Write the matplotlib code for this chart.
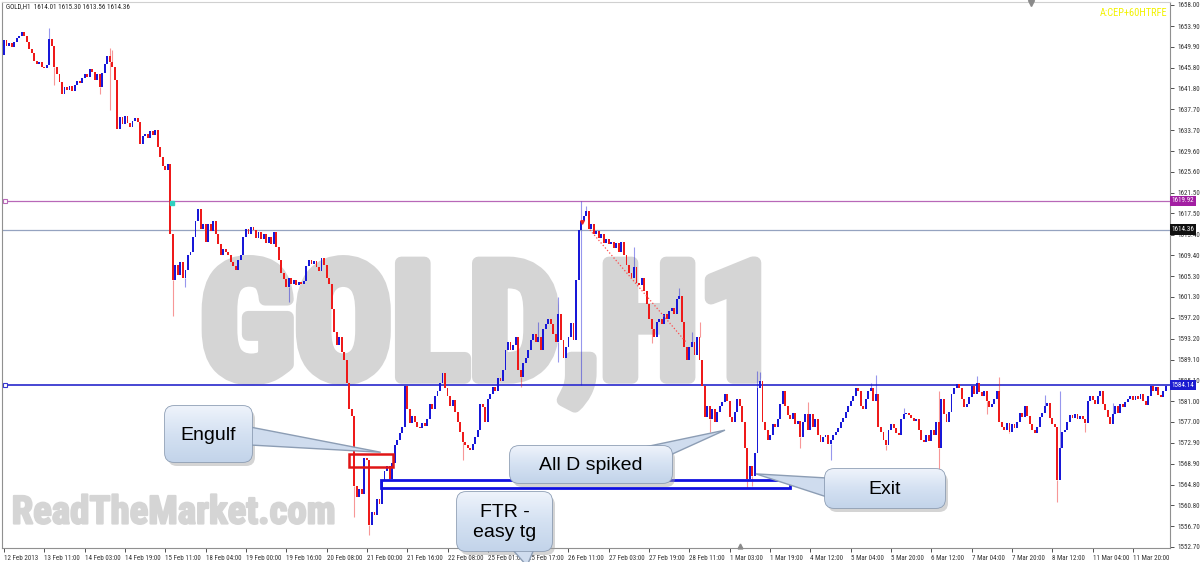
import matplotlib
matplotlib.use("Agg")
import matplotlib.pyplot as plt
import matplotlib.patheffects as pe
from matplotlib import font_manager
from matplotlib.patches import FancyBboxPatch, Polygon, Rectangle
from matplotlib.colors import LinearSegmentedColormap
import numpy as np

# hourly closes, one list per trading week
first_open = 1648.3
week1 = [1651.2, 1650.0, 1650.6, 1649.8, 1650.8, 1651.5, 1652.0, 1652.8,
         1652.0, 1650.8, 1649.5, 1648.6, 1647.2, 1646.5, 1647.0, 1646.0,
         1645.8, 1646.4, 1651.4, 1650.0, 1646.0, 1644.5, 1643.0, 1640.8,
         1642.0, 1641.4, 1642.2, 1641.2, 1642.5, 1643.3, 1642.8, 1643.8,
         1644.5, 1644.0, 1645.5, 1645.0, 1643.5, 1644.6, 1642.0, 1644.8,
         1646.5, 1648.0, 1647.0, 1646.0, 1643.5, 1634.0, 1636.2, 1634.8,
         1636.5, 1635.0, 1634.2, 1635.5, 1636.0, 1635.3, 1631.0, 1632.5,
         1633.0, 1632.2, 1633.5, 1632.8, 1633.8, 1630.5, 1628.5, 1626.8,
         1626.0, 1627.2, 1613.5, 1604.5, 1607.5, 1605.5, 1608.0, 1605.0,
         1606.5, 1609.5, 1610.0, 1613.0, 1616.0]
week2 = [1618.3, 1614.5, 1615.5,
         1612.0, 1615.5, 1614.0, 1616.0, 1613.5, 1611.5, 1609.5, 1610.5,
         1610.0, 1609.5, 1608.0, 1607.2, 1606.5, 1608.5, 1609.5, 1613.0,
         1614.5, 1613.6, 1614.8, 1614.2, 1612.8, 1613.8, 1612.5, 1613.5,
         1611.8, 1613.0, 1611.5, 1613.8, 1611.0, 1608.5, 1606.0, 1604.8,
         1603.3, 1605.0, 1603.8, 1604.5, 1603.5, 1604.2, 1603.7, 1604.4,
         1607.2, 1608.5, 1607.6, 1608.2, 1607.0, 1606.3, 1608.8, 1607.5,
         1605.0, 1603.8, 1599.0, 1594.5, 1592.0, 1593.5, 1590.5, 1589.0,
         1584.5, 1579.5, 1578.2, 1564.5, 1562.5, 1564.0, 1563.0, 1570.0,
         1569.5, 1557.0, 1559.5, 1559.0, 1562.0, 1561.0, 1565.5, 1567.5,
         1568.5, 1566.0, 1569.0, 1572.5, 1573.5, 1574.8, 1576.0, 1584.0,
         1579.5, 1576.8, 1578.2, 1577.0, 1576.0, 1575.8, 1576.7, 1576.2,
         1577.5, 1580.5, 1579.5, 1582.0, 1583.0, 1584.5, 1586.5, 1583.5,
         1582.0, 1580.0, 1581.2, 1579.0, 1577.0, 1575.0, 1573.0, 1572.5,
         1572.0, 1571.5, 1572.8, 1574.0, 1575.5, 1580.5, 1579.8, 1577.0]
week3 = [1581.5, 1582.5, 1583.8, 1583.0, 1585.5, 1585.0, 1587.0, 1591.0,
         1592.5, 1591.0, 1592.0, 1593.5, 1587.0, 1585.8, 1588.5, 1589.5,
         1591.0, 1593.0, 1594.0, 1592.5, 1593.5, 1591.0, 1595.0, 1596.0,
         1597.0, 1596.0, 1594.0, 1592.5, 1598.0, 1593.0, 1589.5, 1591.5,
         1593.5, 1596.2, 1593.0, 1604.5, 1614.3, 1616.0, 1617.0, 1618.0,
         1614.5, 1615.5, 1613.5, 1614.0, 1612.8, 1613.5, 1611.8, 1612.5,
         1611.5, 1612.0, 1610.8, 1611.8, 1610.0, 1612.0, 1609.5, 1607.5,
         1606.0, 1605.0, 1607.0, 1604.0, 1603.5, 1605.0, 1602.5, 1600.0,
         1597.0, 1595.0, 1593.5, 1596.5, 1597.0, 1596.0, 1598.0, 1597.0,
         1598.5, 1599.2, 1598.0, 1600.8, 1601.5, 1596.5, 1591.5, 1589.0,
         1591.5, 1592.5, 1590.0, 1593.5, 1589.0, 1584.0, 1578.0, 1580.0,
         1577.5, 1579.5, 1577.0, 1579.0, 1580.0, 1580.8, 1582.5, 1581.0,
         1578.0, 1577.0, 1579.0, 1581.5, 1580.0, 1577.0, 1572.0, 1566.0,
         1568.5, 1566.5, 1571.0, 1583.5, 1585.0, 1577.0, 1575.5, 1573.5,
         1574.5, 1576.5, 1576.0, 1577.5, 1580.5]
week4 = [1583.0, 1580.0, 1578.3,
         1577.5, 1578.8, 1576.5, 1577.2, 1574.0, 1577.0, 1578.5, 1575.5,
         1578.5, 1576.0, 1577.5, 1574.5, 1573.0, 1574.0, 1574.5, 1572.8,
         1573.5, 1574.5, 1575.0, 1575.8, 1577.0, 1577.8, 1579.0, 1580.0,
         1581.0, 1582.0, 1583.5, 1583.0, 1580.0, 1579.5, 1581.5, 1583.0,
         1583.5, 1581.0, 1582.5, 1576.0, 1575.0, 1573.5, 1572.5, 1575.5,
         1576.5, 1575.8, 1574.8, 1574.5, 1577.5, 1578.5, 1578.8, 1578.3,
         1577.8, 1577.2, 1577.5, 1575.5, 1573.5, 1573.0, 1574.5, 1573.2,
         1575.5, 1574.5, 1577.0, 1572.0, 1581.5, 1578.5, 1577.0, 1579.0,
         1582.5, 1583.5, 1584.3, 1583.5, 1581.5, 1579.8, 1580.5, 1581.8,
         1584.0, 1582.5, 1584.5, 1582.8, 1582.0, 1583.0, 1581.0, 1579.8,
         1580.5, 1581.5, 1583.0, 1577.0, 1576.0, 1575.5, 1576.8, 1575.0,
         1576.5, 1575.8, 1577.0, 1578.8, 1578.0, 1580.0, 1578.2, 1576.5,
         1575.5, 1574.8, 1576.0, 1578.0, 1578.8, 1580.0, 1580.6, 1577.8,
         1576.5, 1576.0, 1565.8, 1572.0, 1575.0, 1575.5, 1577.0, 1578.3,
         1577.8, 1578.5, 1577.5, 1578.2]
week5 = [1577.5, 1576.8, 1581.0, 1582.0, 1581.2, 1580.5, 1582.0, 1583.0,
         1580.5, 1579.3, 1578.0, 1576.5, 1578.5, 1580.0, 1578.8, 1580.5,
         1579.8, 1580.8, 1581.5, 1582.0, 1581.3, 1582.0, 1581.5, 1582.5,
         1581.0, 1580.2, 1582.0, 1584.0, 1583.0, 1583.8, 1582.2, 1581.8,
         1583.0, 1584.0]

# long wicks (bar index -> price)
wick_high = {18: 1653.5, 42: 1649.6, 43: 1649.2, 212: 1596.4, 220: 1601.3,
             229: 1619.9, 231: 1619.0, 250: 1611.0, 268: 1603.0, 273: 1594.5,
             276: 1596.5, 299: 1586.8, 300: 1586.7, 319: 1580.9, 344: 1584.6,
             346: 1586.2, 357: 1579.7, 371: 1583.0, 386: 1586.0, 395: 1585.7,
             413: 1582.2, 419: 1583.0, 440: 1580.7}
wick_low = {20: 1642.5, 38: 1640.7, 42: 1637.6, 67: 1597.5, 72: 1603.2,
            113: 1600.3, 139: 1558.5, 145: 1555.0, 182: 1569.5, 205: 1583.8,
            220: 1588.6, 229: 1584.2, 257: 1592.3, 280: 1575.0, 295: 1564.2,
            297: 1564.5, 316: 1572.0, 328: 1569.6, 350: 1571.5, 371: 1567.8,
            390: 1578.6, 399: 1574.8, 418: 1561.5, 429: 1575.0}

y_ticks = [1658.00, 1653.90, 1649.90, 1645.80, 1641.80, 1637.70, 1633.70,
           1629.60, 1625.60, 1621.50, 1617.50, 1613.40, 1609.40, 1605.30,
           1601.30, 1597.20, 1593.20, 1589.10, 1585.10, 1581.00, 1577.00,
           1572.90, 1568.90, 1564.80, 1560.80, 1556.70, 1552.70]
x_labels = ["12 Feb 2013", "13 Feb 11:00", "14 Feb 03:00", "14 Feb 19:00",
            "15 Feb 11:00", "18 Feb 04:00", "19 Feb 00:00", "19 Feb 16:00",
            "20 Feb 08:00", "21 Feb 00:00", "21 Feb 16:00", "22 Feb 08:00",
            "25 Feb 01:00", "25 Feb 17:00", "26 Feb 11:00", "27 Feb 03:00",
            "27 Feb 19:00", "28 Feb 11:00", "1 Mar 03:00", "1 Mar 19:00",
            "4 Mar 12:00", "5 Mar 04:00", "5 Mar 20:00", "6 Mar 12:00",
            "7 Mar 04:00", "7 Mar 20:00", "8 Mar 12:00", "11 Mar 04:00",
            "11 Mar 20:00"]

# horizontal levels
level_top = 1619.92
level_bid = 1614.36
level_sr = 1584.14

# marked zones (bar from, bar to, price low, price high)
engulf_zone = (136.9, 154.4, 1568.2, 1570.8)
ftr_zone = (149.6, 312.0, 1564.16, 1565.71)
trend_line = ([232.5, 271.0], [1614.3, 1592.3])

BLUE = "#1818d8"
RED = "#ee1a1a"
MARK = "#d5d5d5"


def pick_font(cands):
    for c in cands:
        try:
            font_manager.findfont(c, fallback_to_default=False)
            return c
        except ValueError:
            pass
    return None


narrow = pick_font(["Roboto Condensed", "Liberation Sans Narrow",
                    "Open Sans Condensed", "Arial Narrow"])
if narrow:
    small_font, small_size = [narrow, "DejaVu Sans"], 5.0
    mark_size, site_size = 116, 28
else:
    small_font, small_size = ["Liberation Sans", "DejaVu Sans"], 4.3
    mark_size, site_size = 94, 24

W, H = 1200, 562
fig = plt.figure(figsize=(12, 5.62), dpi=100)
fig.patch.set_facecolor("white")
ax = fig.add_axes([2 / W, 1 - 548 / H, 1168 / W, 546 / H])

closes = np.array(week1 + week2 + week3 + week4 + week5)
opens = np.concatenate([[first_open], closes[:-1]])
idx = np.arange(len(closes))
up = closes >= opens
colors = np.where(up, BLUE, RED)

# wicks
for i, p in wick_high.items():
    ax.vlines(i, max(opens[i], closes[i]), p, color=colors[i], lw=0.8,
              alpha=0.45, zorder=2)
for i, p in wick_low.items():
    ax.vlines(i, p, min(opens[i], closes[i]), color=colors[i], lw=0.8,
              alpha=0.45, zorder=2)

# bodies
bottom = np.minimum(opens, closes)
height = np.maximum(np.abs(closes - opens), 0.2)
ax.bar(idx, height, bottom=bottom, width=0.75, color=colors, linewidth=0,
       zorder=3)

ax.axhline(level_top, color="#b868b8", lw=0.9, zorder=1)
ax.axhline(level_bid, color="#95a3c0", lw=0.9, zorder=1)
ax.axhline(level_sr, color="#3838d0", lw=1.3, zorder=1)
ax.plot([0.2], [level_top], marker="s", ms=3, mfc="white", mec="#b868b8",
        mew=0.8, zorder=4)
ax.plot([0.2], [level_sr], marker="s", ms=3, mfc="white", mec="#3838d0",
        mew=0.8, zorder=4)

ax.plot(trend_line[0], trend_line[1], ls=":", color="#ff4a4a", lw=0.9, zorder=4)
ax.plot([66.7], [1619.5], marker="s", ms=2.5, color="#30d0c0", zorder=5)
ax.plot([229.5], [1615.8], marker="v", ms=2.5, color="#ee2020", zorder=5)

ax.add_patch(Rectangle((engulf_zone[0], engulf_zone[2]),
                       engulf_zone[1] - engulf_zone[0],
                       engulf_zone[3] - engulf_zone[2],
                       fill=False, ec="#e01515", lw=1.8, zorder=6))
ax.add_patch(Rectangle((ftr_zone[0], ftr_zone[2]),
                       ftr_zone[1] - ftr_zone[0],
                       ftr_zone[3] - ftr_zone[2],
                       fill=False, ec="#1010e0", lw=2.0, zorder=6))

# watermarks
ax.text(0.418, 0.393, "GOLD,H1", transform=ax.transAxes, fontsize=mark_size,
        fontweight="bold", family=small_font, color=MARK, ha="center",
        va="center", zorder=0,
        path_effects=[pe.withStroke(linewidth=9, foreground=MARK)])
ax.text(0.147, 0.064, "ReadTheMarket.com", transform=ax.transAxes,
        fontsize=site_size, fontweight="bold", family=small_font,
        color=MARK, ha="center", va="center", zorder=0,
        path_effects=[pe.withStroke(linewidth=1.5, foreground=MARK)])

ax.set_xlim(-0.8, 462.7)
ax.set_ylim(1552.5, 1658.58)

ax.yaxis.tick_right()
ax.set_yticks(y_ticks)
ax.set_yticklabels(["%.2f" % v for v in y_ticks], family=small_font)
ax.set_xticks(np.arange(0, 16 * len(x_labels), 16))
ax.set_xticklabels(x_labels, ha="left", family=small_font)
ax.tick_params(axis="both", labelsize=small_size, length=3, width=0.6,
               pad=2, colors="#333333")
ax.tick_params(axis="x", pad=2)
for s in ax.spines.values():
    s.set_color("#909090")
    s.set_linewidth(0.8)
ax.spines["top"].set_color("#d0d0d0")

# price labels on the right
for p, bg in [(level_top, "#a21ea2"), (level_bid, "#101010"),
              (level_sr, "#1c1cd0")]:
    ax.text(1.0015, p, "%.2f" % p, transform=ax.get_yaxis_transform(),
            fontsize=small_size, family=small_font, color="white",
            ha="left", va="center", zorder=7,
            bbox=dict(boxstyle="square,pad=0.25", fc=bg, ec="none"))

fig.text(6 / W, 1 - 7 / H, "GOLD,H1  1614.01 1615.30 1613.56 1614.36",
         fontsize=small_size, family=small_font, color="#222222",
         va="center")
fig.text(1167 / W, 1 - 13 / H, "A:CEP+60HTRFE", fontsize=7.5,
         family=small_font, color="#f2f200", ha="right", va="center")

# overlay in pixel units for the callouts
ov = fig.add_axes([0, 0, 1, 1], zorder=10)
ov.axis("off")
ov.patch.set_alpha(0)


def to_px(i, p):
    d = ax.transData.transform((i, p))
    return d[0], H - d[1]


grad = LinearSegmentedColormap.from_list("g", ["#eef3fb", "#d4e1f2",
                                               "#c3d4ea"])


def callout(x0, y0, x1, y1, text, tip, base):
    w, h = x1 - x0, y1 - y0
    ov.add_patch(FancyBboxPatch((x0 + 3, y0 + 4), w, h,
                                boxstyle="round,pad=0,rounding_size=9",
                                fc="#a0a0a0", ec="none", alpha=0.45))
    ov.add_patch(Polygon([base[0], tip, base[1]], closed=True, fc="#cfdcee",
                         ec="#8c9db4", lw=1.0))
    box = FancyBboxPatch((x0, y0), w, h,
                         boxstyle="round,pad=0,rounding_size=9",
                         fc="#d6e2f2", ec="#8c9db4", lw=1.2)
    ov.add_patch(box)
    img = ov.imshow(np.linspace(0, 1, 64).reshape(-1, 1), cmap=grad,
                    extent=(x0, x1, y1, y0), aspect="auto", zorder=2)
    img.set_clip_path(box)
    ov.text((x0 + x1) / 2, (y0 + y1) / 2 + 1, text, fontsize=14,
            family=["Liberation Sans", "DejaVu Sans"], color="black",
            ha="center", va="center", linespacing=1.25, zorder=3)


callout(165, 406, 252, 462, "Engulf", to_px(149.5, 1571.1),
        [(250, 427), (250, 445)])
callout(510, 446, 672, 483, "All D spiked", to_px(286.1, 1575.4),
        [(640, 448), (668, 456)])
callout(825, 469, 945, 508, "Exit", to_px(298.4, 1566.9),
        [(827, 478), (827, 497)])
callout(457, 492, 552, 551, "FTR -\neasy tg", (527, 566),
        [(512, 549), (534, 549)])

ov.plot([1031], [3], marker="v", ms=4, color="#8a8a8a", clip_on=False)
ov.plot([740], [546], marker="^", ms=3.5, color="#8a8a8a", clip_on=False)
ov.set_xlim(0, W)
ov.set_ylim(H, 0)

plt.savefig("out.png", dpi=100, facecolor="white")
